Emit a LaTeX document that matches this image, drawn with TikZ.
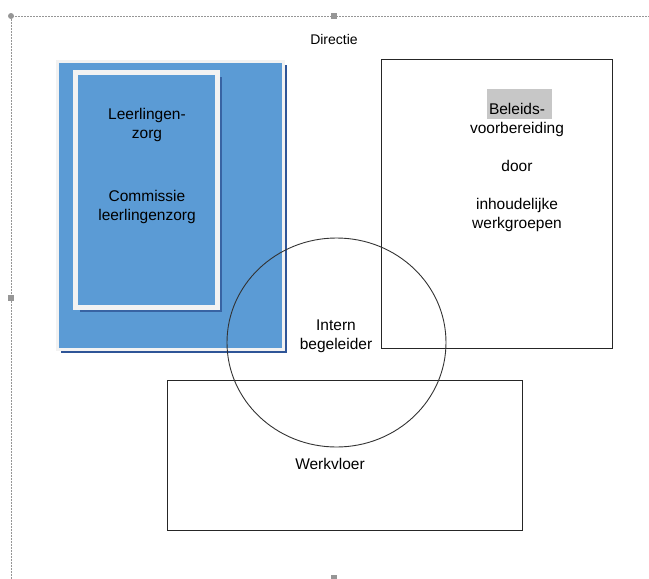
\documentclass[tikz,border=0pt]{standalone}
\usepackage{fontspec}
\setmainfont{Liberation Sans}
\usetikzlibrary{shapes.geometric,shadows}
\definecolor{zorgblue}{RGB}{91,155,213}
\definecolor{zorgdark}{RGB}{47,85,151}
\definecolor{zorgrim}{RGB}{242,242,242}
\definecolor{handle}{RGB}{150,150,150}
\begin{document}
\begin{tikzpicture}[x=1pt,y=-1pt,
    every node/.style={font=\fontsize{15.5}{19}\selectfont,align=center},
    bluebox/.style={rectangle,fill=zorgblue,draw=zorgrim,inner sep=0pt},
    plain box/.style={rectangle,draw=black!85,line width=0.9pt,inner sep=0pt},
    grip/.style={rectangle,fill=handle,minimum size=6pt,inner sep=0pt}]

  \useasboundingbox (0,0) rectangle (649,579);

  % selection frame
  \draw[handle,dash pattern=on 2pt off 1pt,line width=0.8pt] (11,579) -- (11,16) -- (649,16);
  \fill[handle] (11,16) circle (3);
  \node[grip] (g1) at (334,16) {};
  \node[grip] (g2) at (11,298) {};
  \node[grip] (g3) at (334,578) {};

  \node[font=\fontsize{14}{16}\selectfont] (D) at (334,39) {Directie};

  % leerlingenzorg
  \node[bluebox,line width=3pt,minimum width=226pt,minimum height=288pt,
    drop shadow={shadow xshift=3.5pt,shadow yshift=-3.5pt,fill=zorgdark,opacity=1}] (LZ) at (170.5,205.5) {};
  \node[bluebox,line width=5pt,minimum width=142pt,minimum height=235pt,
    drop shadow={shadow xshift=4.5pt,shadow yshift=-4.5pt,fill=zorgdark!80!zorgblue,opacity=1}] (CL) at (146.5,190) {};
  \node (L) at (147,124.5) {Leerlingen-\\zorg};
  \node (C) at (147,207) {Commissie\\leerlingenzorg};

  % beleid
  \node[plain box,minimum width=231pt,minimum height=289pt] (B) at (496.5,203.5) {};
  \node[fill=black!22,minimum width=65pt,minimum height=30pt,inner sep=0pt] (H) at (519.5,104) {};
  \node (BT) at (517,167.5) {Beleids-\\voorbereiding\\[19pt]door\\[19pt]inhoudelijke\\werkgroepen};

  % werkvloer
  \node[plain box,minimum width=355pt,minimum height=150pt] (W) at (344.5,455) {};
  \node (WT) at (330,464) {Werkvloer};

  % intern begeleider
  \node[ellipse,draw=black!80,line width=0.9pt,minimum width=219pt,minimum height=209pt,inner sep=0pt] (IB) at (336.5,342.5) {};
  \node (IBT) at (336,336) {Intern\\begeleider};
\end{tikzpicture}
\end{document}
